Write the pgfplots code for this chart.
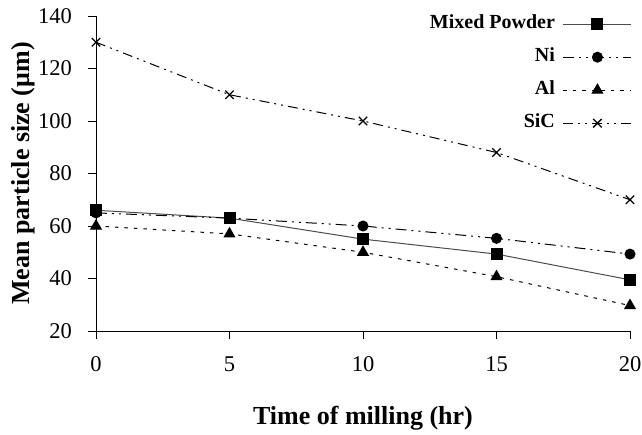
\documentclass[border=0pt]{standalone}
\usepackage{pgfplots}
\pgfplotsset{compat=1.18}
\usepackage{fontspec}
\setmainfont{Liberation Serif}
\begin{document}
\begin{tikzpicture}
\pgfplotsset{
  /pgfplots/legline/.style={legend image code/.code={%
    \draw[mark repeat=2,mark phase=2,##1] plot coordinates {(0pt,0pt)(34pt,0pt)(68pt,0pt)};}},
}
\begin{axis}[at={(0,0)},anchor=south west,scale only axis,width=534pt,height=315pt,
xmin=0,xmax=20,ymin=20,ymax=140,xtick={0,5,10,15,20},ytick={20,40,...,140},
axis x line=bottom,axis y line=left,axis line style={-,line width=0.9pt},
tick align=outside,major tick length=8pt,tick style={line width=0.9pt,black},
/pgf/number format/assume math mode=true,
xticklabel style={font=\fontsize{22.5}{26}\selectfont,anchor=base,inner sep=0pt,yshift=-32pt},
yticklabel style={font=\fontsize{22.5}{26}\selectfont,anchor=east,inner sep=0pt,xshift=-16pt},
xlabel={Time of milling (hr)},ylabel={Mean particle size (μm)},
label style={font=\fontsize{26}{30}\selectfont\bfseries},
xlabel style={at={(axis description cs:0.5,-0.203)},anchor=base,yshift=-30pt},
ylabel style={at={(axis description cs:-0.1236,0.5)},anchor=base},
clip=false,legend plot pos=right,legend cell align=right,
legend style={at={(axis description cs:1.004,1.0)},anchor=north east,draw=none,fill=none,
  inner sep=0pt,row sep=17pt,column sep=8pt,font=\fontsize{20}{24}\selectfont\bfseries,
  nodes={inner sep=0pt,text height=12pt,text depth=4pt}},
legline]
\addplot[black!70,line width=1pt,mark=square*,mark size=5.5pt,mark options={black,fill=black}] coordinates {(0,66)(5,63)(10,55)(15,49.3)(20,39.5)};
\addplot[black,line width=1pt,dash pattern=on 11pt off 5pt on 2pt off 5pt on 2pt off 5pt,mark=*,mark size=5pt,mark options={solid}] coordinates {(0,65)(5,63)(10,60)(15,55.3)(20,49.3)};
\addplot[black,line width=1pt,dash pattern=on 3.5pt off 6pt,mark=triangle*,mark size=6pt,mark options={solid}] coordinates {(0,60)(5,57)(10,50)(15,40.7)(20,29.7)};
\addplot[black,line width=1pt,dash pattern=on 10pt off 5pt on 2pt off 5pt on 2pt off 5pt,mark=x,mark size=6pt,mark options={solid,line width=1.3pt}] coordinates {(0,130)(5,110)(10,100)(15,88)(20,70)};
\legend{Mixed Powder,Ni,Al,SiC}
\end{axis}
\path[use as bounding box] (-96pt,-71pt) rectangle (546pt,331pt);
\end{tikzpicture}
\end{document}
